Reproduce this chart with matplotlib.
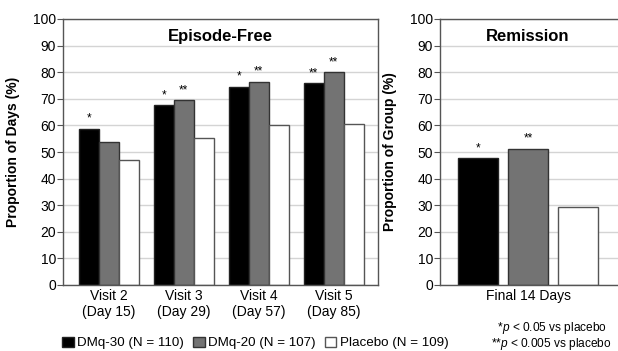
import numpy as np
import matplotlib
matplotlib.use("Agg")
import matplotlib.pyplot as plt
from matplotlib.patches import Patch

plt.rcParams['font.family'] = ['Liberation Sans', 'DejaVu Sans']
plt.rcParams['mathtext.fontset'] = 'custom'
plt.rcParams['mathtext.rm'] = 'Liberation Sans'
plt.rcParams['mathtext.it'] = 'Liberation Sans:italic'

# data
visits = ['Visit 2\n(Day 15)', 'Visit 3\n(Day 29)', 'Visit 4\n(Day 57)', 'Visit 5\n(Day 85)']
dmq30_free = [58.8, 67.5, 74.5, 75.8]
dmq20_free = [53.8, 69.4, 76.4, 80.1]
placebo_free = [47.0, 55.2, 60.1, 60.7]
dmq30_stars = ['*', '*', '*', '**']
dmq20_stars = ['', '**', '**', '**']

remission_label = ['Final 14 Days']
remission = [47.6, 51.3, 29.4]
remission_stars = ['*', '**', '']

groups = ['DMq-30 (N = 110)', 'DMq-20 (N = 107)', 'Placebo (N = 109)']
colors = ['#000000', '#737373', '#ffffff']
edges = ['#222222', '#333333', '#555555']
spine_col = '#555555'
grid_col = '#d4d4d4'

W, H = 618, 351
fig = plt.figure(figsize=(W / 100, H / 100), dpi=100)

def style_axis(ax):
    ax.set_ylim(0, 100)
    ax.set_yticks(np.arange(0, 101, 10))
    ax.yaxis.grid(True, color=grid_col, linewidth=1)
    ax.set_axisbelow(True)
    for s in ax.spines.values():
        s.set_color(spine_col)
        s.set_linewidth(1)
    ax.tick_params(axis='y', length=4, color=spine_col, labelsize=10, pad=1)
    ax.tick_params(axis='x', length=0, labelsize=10, pad=3)

# left panel: episode-free
ax1 = fig.add_axes([63 / W, (H - 285) / H, (378 - 63) / W, (285 - 19) / H])
x = np.arange(len(visits))
bw = 0.267
series = [dmq30_free, dmq20_free, placebo_free]
for i, vals in enumerate(series):
    ax1.bar(x + (i - 1) * bw, vals, width=bw, color=colors[i], edgecolor=edges[i], linewidth=1)
for xi, v, s in zip(x, dmq30_free, dmq30_stars):
    ax1.text(xi - bw, v + 1.5, s, ha='center', va='bottom', fontsize=8.5)
for xi, v, s in zip(x, dmq20_free, dmq20_stars):
    ax1.text(xi, v + 1.5, s, ha='center', va='bottom', fontsize=8.5)
ax1.set_xlim(-0.61, 3.59)
ax1.set_xticks(x)
ax1.set_xticklabels(visits)
style_axis(ax1)
ax1.set_ylabel('Proportion of Days (%)', fontsize=10, fontweight='bold')
ax1.yaxis.set_label_coords(-0.137, 0.5)
ax1.text(0.5, 0.936, 'Episode-Free', transform=ax1.transAxes, ha='center', va='center',
         fontsize=12, fontweight='bold')

# right panel: remission
ax2 = fig.add_axes([440 / W, (H - 285) / H, (630 - 440) / W, (285 - 19) / H])
xr = np.array([-1, 0, 1])
for i in range(3):
    ax2.bar(xr[i], remission[i], width=0.8, color=colors[i], edgecolor=edges[i], linewidth=1)
    if remission_stars[i]:
        ax2.text(xr[i], remission[i] + 1.5, remission_stars[i], ha='center', va='bottom', fontsize=8.5)
ax2.set_xlim(-1.76, 2.04)
ax2.set_xticks([0])
ax2.set_xticklabels(remission_label)
style_axis(ax2)
ax2.set_ylabel('Proportion of Group (%)', fontsize=10, fontweight='bold')
ax2.yaxis.set_label_coords(-0.227, 0.5)
ax2.text(0, 0.936, 'Remission', transform=ax2.get_xaxis_transform(), ha='center', va='center',
         fontsize=12, fontweight='bold')

# legend
handles = [Patch(facecolor=colors[i], edgecolor=edges[i], linewidth=1) for i in range(3)]
fig.legend(handles, groups, loc='center left', bbox_to_anchor=(57 / W, 1 - 343 / H), ncol=3,
           frameon=False, fontsize=9.6, handlelength=0.85, handleheight=0.85,
           handletextpad=0.25, columnspacing=0.7, borderaxespad=0)

# footnotes
footnote = ('  *$\\mathit{p}$ < 0.05 vs placebo\n'
            '**$\\mathit{p}$ < 0.005 vs placebo')
fig.text(491 / W, 1 - 336 / H, footnote, fontsize=8.6, va='center', ha='left', linespacing=1.0)

fig.savefig('out.png', dpi=100)
